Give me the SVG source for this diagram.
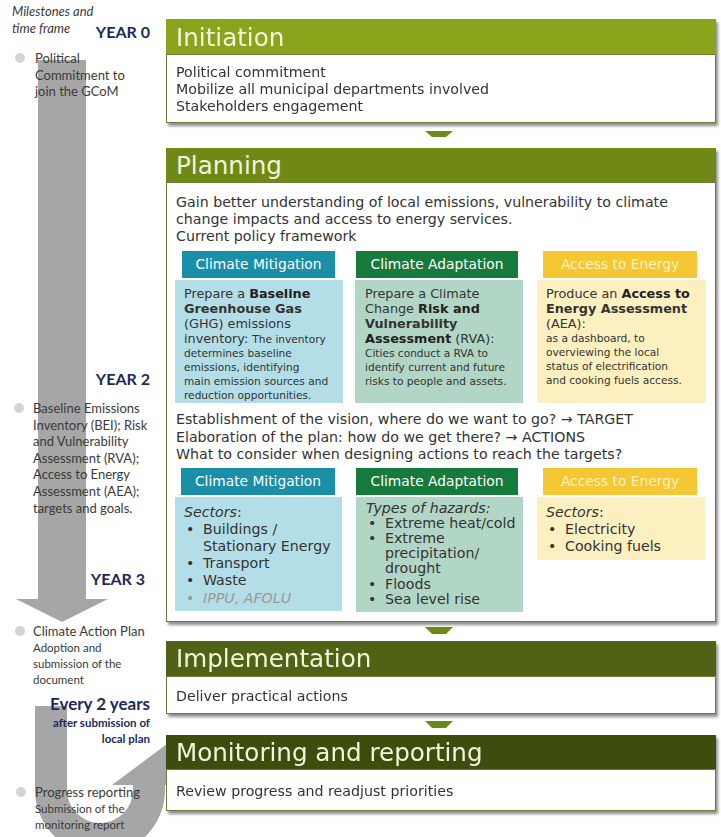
<svg xmlns="http://www.w3.org/2000/svg" width="721" height="837" viewBox="0 0 721 837">
<defs>
<filter id="sh" x="-5%" y="-5%" width="110%" height="115%">
<feGaussianBlur in="SourceAlpha" stdDeviation="1.5"/>
<feOffset dx="2" dy="3" result="b"/>
<feComponentTransfer><feFuncA type="linear" slope="0.45"/></feComponentTransfer>
<feMerge><feMergeNode/><feMergeNode in="SourceGraphic"/></feMerge>
</filter>
<style>
text{font-family:"DejaVu Sans",Verdana,sans-serif;fill:#333;}
.lt{font-family:Lato,"Open Sans",sans-serif;fill:#3a3a3a;font-size:13px;}
.ls{font-family:Lato,"Open Sans",sans-serif;fill:#3a3a3a;font-size:11.5px;}
.it{font-family:Lato,"Open Sans",sans-serif;fill:#3a3a3a;font-size:13px;font-style:italic;}
.yr{font-family:Lato,"Open Sans",sans-serif;font-weight:bold;fill:#1c2a5a;font-size:16px;text-anchor:end;}
.ttl{font-size:24.6px;fill:#f1f5dc;}
.body{fill:#fff;stroke:#6e7d3a;stroke-width:1;}
.bt{font-size:14.2px;}
.ch{font-size:13.8px;fill:#fff;text-anchor:middle;}
.m12{font-size:12.8px;}
.m10{font-size:10.6px;}
.r2{font-size:14.2px;}
.dot{fill:#d4d4d4;}
.tl{fill:#a6a6a6;}
.con{fill:#6b8a1a;}
</style>
</defs>

<g id="timeline">
<rect class="tl" x="38" y="60" width="48" height="540"/>
<polygon class="tl" points="16,599 108,599 62,622"/>
<path class="tl" d="M35,706 L35,790 A65,65 0 0 0 165,790 L165,784 L133,784 L133,790 A33,33 0 0 1 67,790 L67,706 Z"/>
<polygon class="tl" points="112,785 200,785 175,738"/>
</g>

<g id="milestones">
<text x="12" y="16" class="it">Milestones and</text>
<text x="12" y="33" class="it">time frame</text>
<text x="150" y="38" class="yr">YEAR 0</text>
<circle class="dot" cx="20" cy="58" r="5"/>
<text class="lt" x="35" y="63">Political</text>
<text class="lt" x="35" y="80">Commitment to</text>
<text class="lt" x="35" y="96">join the GCoM</text>

<text x="150" y="385" class="yr">YEAR 2</text>
<circle class="dot" cx="19" cy="408" r="5"/>
<text class="lt" x="33" y="413">Baseline Emissions</text>
<text class="lt" x="33" y="430">Inventory (BEI); Risk</text>
<text class="lt" x="33" y="446">and Vulnerability</text>
<text class="lt" x="33" y="463">Assessment (RVA);</text>
<text class="lt" x="33" y="479">Access to Energy</text>
<text class="lt" x="33" y="496">Assessment (AEA);</text>
<text class="lt" x="33" y="513">targets and goals.</text>

<text x="145" y="585" class="yr">YEAR 3</text>
<circle class="dot" cx="20" cy="631" r="5"/>
<text class="lt" x="33" y="636">Climate Action Plan</text>
<text class="ls" x="33" y="652">Adoption and</text>
<text class="ls" x="33" y="668">submission of the</text>
<text class="ls" x="33" y="684">document</text>

<text x="150" y="710" class="yr" style="font-size:17px">Every 2 years</text>
<text x="150" y="727" class="yr" style="font-size:11.5px">after submission of</text>
<text x="150" y="743" class="yr" style="font-size:11.5px">local plan</text>

<circle class="dot" cx="21" cy="792" r="5"/>
<text class="lt" x="35" y="797">Progress reporting</text>
<text class="ls" x="35" y="813">Submission of the</text>
<text class="ls" x="35" y="829">monitoring report</text>
</g>

<g id="connectors">
<polygon class="con" points="425,131 453,131 446,137 432,137"/>
<polygon class="con" points="425,627 453,627 446,634 432,634"/>
<polygon class="con" points="425,721 453,721 446,728 432,728"/>
</g>

<g id="initiation" filter="url(#sh)">
<rect x="166" y="19" width="550" height="35" fill="#8aa41f"/>
<rect class="body" x="166.5" y="54.5" width="549" height="68"/>
<text class="ttl" x="176" y="46">Initiation</text>
<text class="bt" x="176" y="77">Political commitment</text>
<text class="bt" x="176" y="94">Mobilize all municipal departments involved</text>
<text class="bt" x="176" y="111">Stakeholders engagement</text>
</g>

<g id="planning">
<g filter="url(#sh)">
<rect x="166" y="148" width="550" height="34" fill="#6f8917"/>
<rect class="body" x="166.5" y="182.5" width="549" height="439"/>
</g>
<text class="ttl" x="176" y="174">Planning</text>
<text class="bt" x="176" y="207">Gain better understanding of local emissions, vulnerability to climate</text>
<text class="bt" x="176" y="224">change impacts and access to energy services.</text>
<text class="bt" x="176" y="241">Current policy framework</text>

<g id="mitigation1">
<rect x="182" y="251" width="153" height="27" fill="#1b8ea8"/>
<text class="ch" x="258.5" y="269">Climate Mitigation</text>
<rect x="175" y="280" width="168" height="123" fill="#b3dde7"/>
<text class="m12" x="184" y="298">Prepare a <tspan font-weight="bold" fill="#222">Baseline</tspan></text>
<text class="m12" x="184" y="313" font-weight="bold" fill="#222">Greenhouse Gas</text>
<text class="m12" x="184" y="328">(GHG) emissions</text>
<text class="m12" x="184" y="343">inventory: <tspan class="m10">The inventory</tspan></text>
<text class="m10" x="184" y="357">determines baseline</text>
<text class="m10" x="184" y="371">emissions, identifying</text>
<text class="m10" x="184" y="385">main emission sources and</text>
<text class="m10" x="184" y="399">reduction opportunities.</text>
</g>

<g id="adaptation1">
<rect x="356" y="251" width="162" height="27" fill="#167a3c"/>
<text class="ch" x="437" y="269">Climate Adaptation</text>
<rect x="355" y="280" width="168" height="123" fill="#b2d6c6"/>
<text class="m12" x="365" y="298">Prepare a Climate</text>
<text class="m12" x="365" y="313">Change <tspan font-weight="bold" fill="#222">Risk and</tspan></text>
<text class="m12" x="365" y="328" font-weight="bold" fill="#222">Vulnerability</text>
<text class="m12" x="365" y="343"><tspan font-weight="bold" fill="#222">Assessment</tspan> (RVA):</text>
<text class="m10" x="365" y="357">Cities conduct a RVA to</text>
<text class="m10" x="365" y="371">identify current and future</text>
<text class="m10" x="365" y="385">risks to people and assets.</text>
</g>

<g id="energy1">
<rect x="543" y="251" width="154" height="27" fill="#f5c733"/>
<text class="ch" x="620" y="269" style="fill:#fdf2c6">Access to Energy</text>
<rect x="537" y="280" width="169" height="123" fill="#fdf0c0"/>
<text class="m12" x="546" y="298">Produce an <tspan font-weight="bold" fill="#222">Access to</tspan></text>
<text class="m12" x="546" y="313" font-weight="bold" fill="#222">Energy Assessment</text>
<text class="m12" x="546" y="328">(AEA):</text>
<text class="m10" x="546" y="342">as a dashboard, to</text>
<text class="m10" x="546" y="356">overviewing the local</text>
<text class="m10" x="546" y="370">status of electrification</text>
<text class="m10" x="546" y="384">and cooking fuels access.</text>
</g>

<text class="bt" x="176" y="424">Establishment of the vision, where do we want to go? → TARGET</text>
<text class="bt" x="176" y="442">Elaboration of the plan: how do we get there? → ACTIONS</text>
<text class="bt" x="176" y="459">What to consider when designing actions to reach the targets?</text>

<g id="mitigation2">
<rect x="181" y="468" width="154" height="27" fill="#1b8ea8"/>
<text class="ch" x="258" y="486">Climate Mitigation</text>
<rect x="175" y="497" width="167" height="114" fill="#b3dde7"/>
<text class="r2" x="184" y="517"><tspan font-style="italic">Sectors</tspan>:</text>
<text class="r2" x="186" y="534">•</text><text class="r2" x="203" y="534">Buildings /</text>
<text class="r2" x="203" y="551">Stationary Energy</text>
<text class="r2" x="186" y="568">•</text><text class="r2" x="203" y="568">Transport</text>
<text class="r2" x="186" y="585">•</text><text class="r2" x="203" y="585">Waste</text>
<text class="r2" x="186" y="603" style="fill:#999">•</text><text class="r2" x="203" y="603" font-style="italic" style="fill:#999">IPPU, AFOLU</text>
</g>

<g id="adaptation2">
<rect x="356" y="468" width="162" height="27" fill="#167a3c"/>
<text class="ch" x="437" y="486">Climate Adaptation</text>
<rect x="356" y="497" width="167" height="115" fill="#b2d6c6"/>
<text class="r2" x="366" y="513" font-style="italic">Types of hazards:</text>
<text class="r2" x="368" y="528">•</text><text class="r2" x="385" y="528">Extreme heat/cold</text>
<text class="r2" x="368" y="543">•</text><text class="r2" x="385" y="543">Extreme</text>
<text class="r2" x="385" y="558">precipitation/</text>
<text class="r2" x="385" y="573">drought</text>
<text class="r2" x="368" y="589">•</text><text class="r2" x="385" y="589">Floods</text>
<text class="r2" x="368" y="604">•</text><text class="r2" x="385" y="604">Sea level rise</text>
</g>

<g id="energy2">
<rect x="543" y="468" width="154" height="27" fill="#f5c733"/>
<text class="ch" x="620" y="486" style="fill:#fdf2c6">Access to Energy</text>
<rect x="537" y="497" width="168" height="63" fill="#fdf0c0"/>
<text class="r2" x="546" y="517"><tspan font-style="italic">Sectors</tspan>:</text>
<text class="r2" x="548" y="534">•</text><text class="r2" x="565" y="534">Electricity</text>
<text class="r2" x="548" y="551">•</text><text class="r2" x="565" y="551">Cooking fuels</text>
</g>
</g>

<g id="implementation" filter="url(#sh)">
<rect x="166" y="641" width="550" height="35" fill="#4f6213"/>
<rect class="body" x="166.5" y="676.5" width="549" height="37"/>
<text class="ttl" x="176" y="667">Implementation</text>
<text class="bt" x="176" y="701">Deliver practical actions</text>
</g>

<g id="monitoring" filter="url(#sh)">
<rect x="166" y="735" width="550" height="34" fill="#3e4e0c"/>
<rect class="body" x="166.5" y="769.5" width="549" height="41"/>
<text class="ttl" x="176" y="761">Monitoring and reporting</text>
<text class="bt" x="176" y="796">Review progress and readjust priorities</text>
</g>
</svg>
